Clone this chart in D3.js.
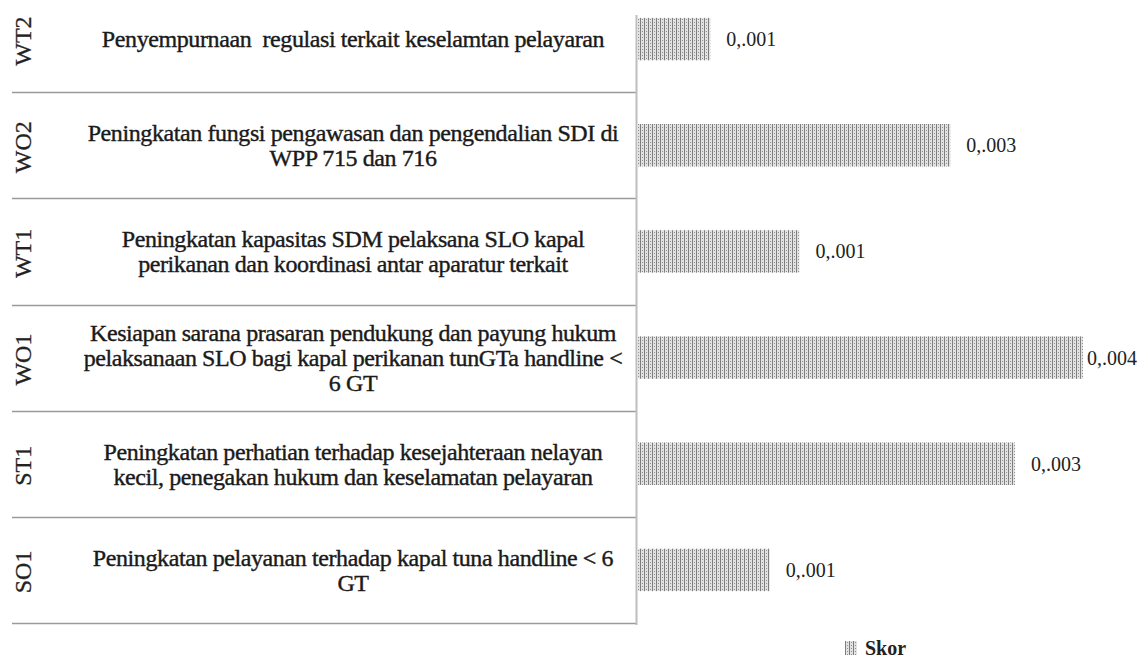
<!DOCTYPE html>
<html>
<head>
<meta charset="utf-8">
<script src="https://cdn.jsdelivr.net/npm/d3@7"></script>
<style>
  body { margin: 0; background: #fff; }
  svg { display: block; font-family: "Liberation Serif", "Times New Roman", serif; }
</style>
</head>
<body>
<div id="chart"></div>
<script>
// chart data, top row first
var codes = ["WT2", "WO2", "WT1", "WO1", "ST1", "SO1"];
var categoryLines = [
	["Penyempurnaan  regulasi terkait keselamtan pelayaran"],
	["Peningkatan fungsi pengawasan dan pengendalian SDI di", "WPP 715 dan 716"],
	["Peningkatan kapasitas SDM pelaksana SLO kapal", "perikanan dan koordinasi antar aparatur terkait"],
	["Kesiapan sarana prasaran pendukung dan payung hukum", "pelaksanaan SLO bagi kapal perikanan tunGTa handline <", "6 GT"],
	["Peningkatan perhatian terhadap kesejahteraan nelayan", "kecil, penegakan hukum dan keselamatan pelayaran"],
	["Peningkatan pelayanan terhadap kapal tuna handline < 6", "GT"]
];
var skor = [0.00069, 0.00295, 0.00153, 0.0042, 0.00356, 0.00125];
var skorLabels = ["0,.001", "0,.003", "0,.001", "0,.004", "0,.003", "0,.001"];
var seriesName = "Skor";

var width = 1145,
	height = 658;

var svg = d3.select("#chart")
	.append("svg")
	.attr("width", width)
	.attr("height", height);

// hatch pattern for the bars
var defs = svg.append("defs");
var pat = defs.append("pattern")
	.attr("id", "hatch")
	.attr("patternUnits", "userSpaceOnUse")
	.attr("width", 4)
	.attr("height", 3);
pat.append("rect").attr("width", 4).attr("height", 3).attr("fill", "#e2e2e2");
pat.append("rect").attr("x", 0).attr("width", 1).attr("height", 3).attr("fill", "#7e7e7e");
pat.append("rect").attr("x", 2).attr("y", 1).attr("width", 1).attr("height", 1).attr("fill", "#909090");

var axisX = 637;

//scales
var rows = d3.scaleBand()
	.domain(codes)
	.range([-14, 623]);

var x = d3.scaleLinear()
	.domain([0, 0.0042])
	.range([axisX, 1083]);

var data = codes.map(function(c, i) {
	return {code: c, lines: categoryLines[i], value: skor[i], label: skorLabels[i]};
});

// row separators
var g = svg.append("g");
g.selectAll(".sep")
	.data(codes)
	.enter()
	.append("line")
	.attr("class", "sep")
	.attr("x1", 12)
	.attr("x2", axisX)
	.attr("y1", function(d) { return Math.round(rows(d) + rows.bandwidth()) + 0.5; })
	.attr("y2", function(d) { return Math.round(rows(d) + rows.bandwidth()) + 0.5; })
	.attr("stroke", "#9a9a9a")
	.attr("stroke-width", 1.5);

// vertical axis line
g.append("line")
	.attr("x1", axisX - 0.5)
	.attr("x2", axisX - 0.5)
	.attr("y1", 15)
	.attr("y2", 625)
	.attr("stroke", "#bdbdbd")
	.attr("stroke-width", 2);

// bars
g.selectAll(".bar")
	.data(data)
	.enter()
	.append("rect")
	.attr("class", "bar")
	.attr("x", axisX)
	.attr("y", function(d) { return rows(d.code) + rows.bandwidth() * 0.3; })
	.attr("width", function(d) { return x(d.value) - axisX; })
	.attr("height", rows.bandwidth() * 0.4)
	.attr("fill", "url(#hatch)");

// value labels
g.selectAll(".val")
	.data(data)
	.enter()
	.append("text")
	.attr("class", "val")
	.attr("x", function(d) { return Math.min(x(d.value) + 16, width - 58); })
	.attr("y", function(d) { return rows(d.code) + rows.bandwidth() / 2; })
	.attr("dy", "0.35em")
	.attr("font-size", 20)
	.attr("fill", "#222")
	.text(function(d) { return d.label; });

// codes, rotated
g.selectAll(".code")
	.data(data)
	.enter()
	.append("text")
	.attr("class", "code")
	.attr("transform", function(d) {
		return "translate(23," + (rows(d.code) + rows.bandwidth() / 2 + 2) + ") rotate(-90)";
	})
	.attr("text-anchor", "middle")
	.attr("dy", "0.35em")
	.attr("font-size", 24)
	.attr("fill", "#222")
	.attr("stroke", "#222")
	.attr("stroke-width", 0.3)
	.text(function(d) { return d.code; });

// category descriptions
var lineH = 25;
var cat = g.selectAll(".cat")
	.data(data)
	.enter()
	.append("text")
	.attr("class", "cat")
	.attr("text-anchor", "middle")
	.attr("font-size", 24)
	.attr("letter-spacing", -0.4)
	.attr("fill", "#1a1a1a")
	.attr("stroke", "#1a1a1a")
	.attr("stroke-width", 0.4);

cat.selectAll("tspan")
	.data(function(d) {
		var cy = rows(d.code) + rows.bandwidth() / 2;
		var top = cy - (d.lines.length - 1) * lineH / 2;
		return d.lines.map(function(l, i) { return {text: l, y: top + i * lineH}; });
	})
	.enter()
	.append("tspan")
	.attr("x", 353)
	.attr("y", function(d) { return d.y; })
	.attr("dy", "0.35em")
	.attr("xml:space", "preserve")
	.text(function(d) { return d.text; });

// legend
var leg = svg.append("g").attr("transform", "translate(845,641)");
leg.append("rect")
	.attr("width", 12)
	.attr("height", 14)
	.attr("fill", "url(#hatch)");
leg.append("text")
	.attr("x", 20)
	.attr("y", 14)
	.attr("font-size", 20)
	.attr("font-weight", "bold")
	.attr("fill", "#222")
	.text(seriesName);
</script>
</body>
</html>
